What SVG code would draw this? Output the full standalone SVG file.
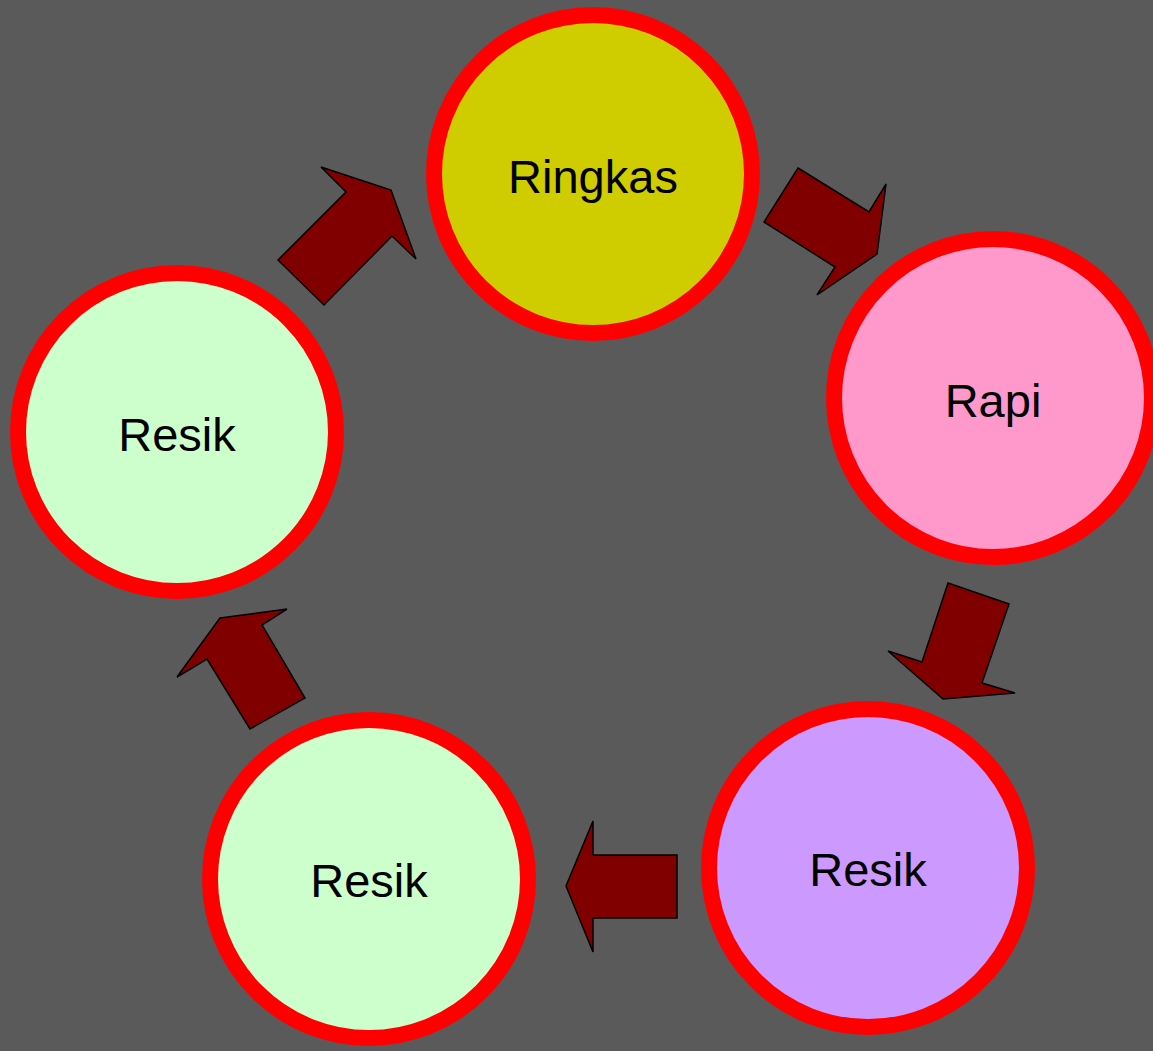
<svg xmlns="http://www.w3.org/2000/svg" width="1153" height="1051" viewBox="0 0 1153 1051">
<style>
.node circle{stroke:#ff0000;stroke-width:16}
.node text{font-family:"Liberation Sans",Arial,sans-serif;font-size:47px;fill:#000;text-anchor:middle}
.arr{fill:#800000;stroke:#000;stroke-width:1.5;stroke-linejoin:miter}
</style>
<rect width="1153" height="1051" fill="#5a5a5a"/>
<g id="ringkas" class="node"><circle cx="593" cy="174" r="159" fill="#cfcc00"/><text x="593" y="193">Ringkas</text></g>
<g id="rapi" class="node"><circle cx="993" cy="398" r="159" fill="#ff99cc"/><text x="993" y="417">Rapi</text></g>
<g id="resik3" class="node"><circle cx="868" cy="868" r="159" fill="#cc99ff"/><text x="868" y="886">Resik</text></g>
<g id="resik2" class="node"><circle cx="369" cy="879" r="159" fill="#ccffcc"/><text x="369" y="897">Resik</text></g>
<g id="resik1" class="node"><circle cx="177" cy="432" r="159" fill="#ccffcc"/><text x="177" y="451">Resik</text></g>
<g id="connectors">
<polygon class="arr" points="278,260 346,192 321,167 391,190 416,259 392,236 324,305"/>
<polygon class="arr" points="798,168 869,212 886,184 877,254 817,295 835,267 764,222"/>
<polygon class="arr" points="948,583 1009,604 982,683 1015,693 943,699 888,651 922,662"/>
<polygon class="arr" points="593,821 593,855 677,855 677,918 593,918 593,952 566,886"/>
<polygon class="arr" points="220,618 287,609 262,625 305,698 250,729 207,659 177,677"/>
</g>
</svg>
